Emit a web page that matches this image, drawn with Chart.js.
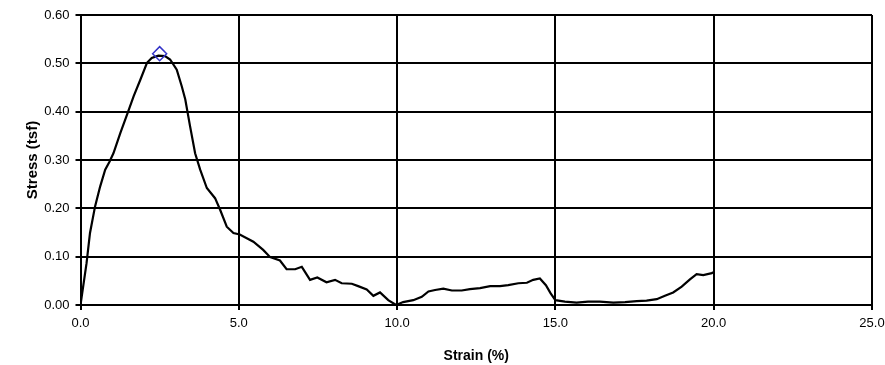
<!DOCTYPE html>
<html>
<head>
<meta charset="utf-8">
<script src="https://cdn.jsdelivr.net/npm/chart.js@4"></script>
<style>
  html, body { margin: 0; padding: 0; background: #fff; }
  #wrap { width: 885px; height: 365px; }
</style>
</head>
<body>
<div id="wrap"><canvas id="c" width="885" height="365"></canvas></div>
<script>
// Strain (%) and Stress (tsf)
const strain = [0.00,0.19,0.30,0.46,0.62,0.78,0.92,1.04,1.26,1.47,1.68,1.89,2.10,2.25,2.46,2.67,2.83,3.04,3.20,3.31,3.46,3.62,3.78,3.99,4.25,4.41,4.62,4.83,5.03,5.46,5.77,5.99,6.30,6.51,6.78,6.99,7.25,7.48,7.77,8.04,8.25,8.57,8.77,9.04,9.25,9.46,9.72,9.97,10.19,10.51,10.78,10.99,11.20,11.46,11.73,12.04,12.30,12.62,12.94,13.25,13.51,13.83,14.10,14.30,14.51,14.70,14.85,15.00,15.30,15.67,16.03,16.40,16.83,17.20,17.57,17.88,18.20,18.46,18.72,18.99,19.25,19.46,19.67,19.94,20.00];
const stress = [0.000,0.086,0.149,0.204,0.245,0.280,0.297,0.314,0.356,0.394,0.432,0.466,0.501,0.511,0.516,0.515,0.508,0.487,0.452,0.425,0.370,0.314,0.280,0.242,0.221,0.197,0.162,0.149,0.146,0.131,0.114,0.099,0.092,0.074,0.074,0.079,0.052,0.057,0.047,0.052,0.045,0.044,0.039,0.032,0.019,0.026,0.010,0.000,0.006,0.010,0.017,0.028,0.031,0.034,0.030,0.030,0.033,0.035,0.039,0.039,0.041,0.045,0.046,0.052,0.055,0.041,0.024,0.010,0.007,0.005,0.007,0.007,0.005,0.006,0.008,0.009,0.012,0.019,0.026,0.038,0.053,0.064,0.062,0.066,0.068];
// Peak marker
const peakStrain = [2.5];
const peakStress = [0.52];
// Axis ticks
const xTicks = [0, 5, 10, 15, 20, 25];
const yTicks = [0, 0.1, 0.2, 0.3, 0.4, 0.5, 0.6];

const curve = strain.map((s, i) => ({ x: s, y: stress[i] }));
const peak = peakStrain.map((s, i) => ({ x: s, y: peakStress[i] }));

const FONT = "'Liberation Sans', Arial, Helvetica, sans-serif";

new Chart(document.getElementById('c'), {
  type: 'scatter',
  data: {
    datasets: [
      {
        data: peak,
        showLine: false,
        pointStyle: 'rectRot',
        pointRadius: 7,
        pointBorderColor: '#3434c8',
        pointBackgroundColor: 'rgba(0,0,0,0)',
        pointBorderWidth: 1.5,
        order: 0
      },
      {
        data: curve,
        showLine: true,
        borderColor: '#000',
        borderWidth: 2.2,
        pointRadius: 0,
        tension: 0,
        order: 1
      }
    ]
  },
  options: {
    responsive: false,
    devicePixelRatio: 1,
    animation: false,
    layout: { padding: { left: 0, top: 15, right: 13, bottom: 0 } },
    plugins: { legend: { display: false }, tooltip: { enabled: false } },
    scales: {
      x: {
        type: 'linear',
        min: 0, max: 25,
        afterBuildTicks: (s) => { s.ticks = xTicks.map(v => ({ value: v })); },
        afterFit: (s) => { s.height = 60; s.paddingRight = 0; s.paddingLeft = 0; },
        ticks: {
          color: '#000',
          font: { family: FONT, size: 13 },
          padding: 6,
          maxRotation: 0,
          callback: (v) => Number(v).toFixed(1)
        },
        grid: { color: '#000', lineWidth: 2, tickLength: 5, drawTicks: true },
        border: { color: '#000', width: 2 },
        title: {
          display: true,
          text: 'Strain (%)',
          color: '#000',
          font: { family: FONT, size: 14, weight: 'bold' },
          padding: { top: 4, bottom: 0 }
        }
      },
      y: {
        type: 'linear',
        min: 0, max: 0.6,
        afterBuildTicks: (s) => { s.ticks = yTicks.map(v => ({ value: v })); },
        afterFit: (s) => { s.width = 80.5; s.paddingTop = 0; s.paddingBottom = 0; },
        ticks: {
          color: '#000',
          font: { family: FONT, size: 13 },
          padding: 6,
          callback: (v) => Number(v).toFixed(2)
        },
        grid: { color: '#000', lineWidth: 2, tickLength: 5, drawTicks: true },
        border: { color: '#000', width: 2 },
        title: {
          display: true,
          text: 'Stress (tsf)',
          color: '#000',
          font: { family: FONT, size: 15, weight: 'bold' },
          padding: { top: 24, bottom: 0 }
        }
      }
    }
  }
});
</script>
</body>
</html>
